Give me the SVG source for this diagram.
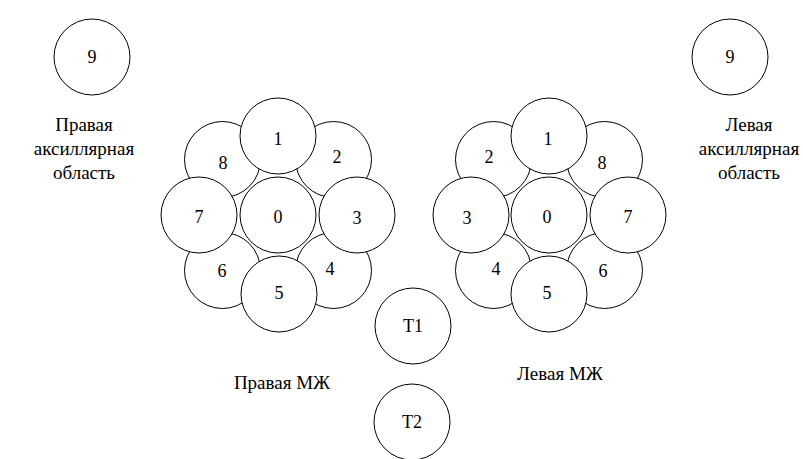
<svg xmlns="http://www.w3.org/2000/svg" width="803" height="459" viewBox="0 0 803 459">
<rect width="803" height="459" fill="#fff"/>
<g id="connectors"></g>
<g id="nodes" fill="#fff" stroke="#000" stroke-width="1">
<g id="right-axillary-9"><circle cx="92" cy="57" r="38"/></g>
<g id="left-axillary-9"><circle cx="730" cy="57" r="38"/></g>
<g id="right-mzh">
<g id="R8"><circle cx="222.5" cy="159.5" r="38"/></g>
<g id="R2"><circle cx="333.5" cy="159.5" r="38"/></g>
<g id="R4"><circle cx="333.5" cy="270.5" r="38"/></g>
<g id="R6"><circle cx="222.5" cy="270.5" r="38"/></g>
<g id="R1"><circle cx="278" cy="136" r="38"/></g>
<g id="R3"><circle cx="357" cy="215" r="38"/></g>
<g id="R5"><circle cx="279" cy="294" r="38"/></g>
<g id="R7"><circle cx="199" cy="215" r="38"/></g>
<g id="R0"><circle cx="278" cy="215" r="38"/></g>
</g>
<g id="left-mzh">
<g id="L2"><circle cx="493.5" cy="159.5" r="38"/></g>
<g id="L8"><circle cx="604.5" cy="159.5" r="38"/></g>
<g id="L6"><circle cx="604.5" cy="270.5" r="38"/></g>
<g id="L4"><circle cx="493.5" cy="270.5" r="38"/></g>
<g id="L1"><circle cx="549" cy="136" r="38"/></g>
<g id="L3"><circle cx="471" cy="215" r="38"/></g>
<g id="L5"><circle cx="549" cy="294" r="38"/></g>
<g id="L7"><circle cx="628" cy="215" r="38"/></g>
<g id="L0"><circle cx="549" cy="215" r="38"/></g>
</g>
<g id="T1"><circle cx="413" cy="326" r="38"/></g>
<g id="T2"><circle cx="412" cy="422" r="38"/></g>
</g>
<g id="node-labels" fill="#000" text-anchor="middle">
<text x="92" y="63" font-family="Times New Roman" font-size="18">9</text>
<text x="730" y="63" font-family="Times New Roman" font-size="18">9</text>
<text x="223" y="169" font-family="Times New Roman" font-size="18">8</text>
<text x="337" y="163" font-family="Times New Roman" font-size="18">2</text>
<text x="330" y="275" font-family="Times New Roman" font-size="18">4</text>
<text x="222" y="277" font-family="Times New Roman" font-size="18">6</text>
<text x="278" y="145" font-family="Times New Roman" font-size="18">1</text>
<text x="357" y="224" font-family="Times New Roman" font-size="18">3</text>
<text x="279" y="299" font-family="Times New Roman" font-size="18">5</text>
<text x="199" y="223" font-family="Times New Roman" font-size="18">7</text>
<text x="278" y="223" font-family="Times New Roman" font-size="18">0</text>
<text x="489" y="163" font-family="Times New Roman" font-size="18">2</text>
<text x="602" y="169" font-family="Times New Roman" font-size="18">8</text>
<text x="603" y="277" font-family="Times New Roman" font-size="18">6</text>
<text x="496" y="275" font-family="Times New Roman" font-size="18">4</text>
<text x="548" y="145" font-family="Times New Roman" font-size="18">1</text>
<text x="467" y="224" font-family="Times New Roman" font-size="18">3</text>
<text x="547" y="299" font-family="Times New Roman" font-size="18">5</text>
<text x="628" y="223" font-family="Times New Roman" font-size="18">7</text>
<text x="547" y="223" font-family="Times New Roman" font-size="18">0</text>
<text x="413" y="332" font-family="Times New Roman" font-size="18">T1</text>
<text x="412" y="428" font-family="Times New Roman" font-size="18">T2</text>
</g>
<g id="labels" fill="#000" text-anchor="middle">
<text x="84" y="131" font-family="Times New Roman" font-size="19">Правая</text>
<text x="84" y="155" font-family="Times New Roman" font-size="19">аксиллярная</text>
<text x="84" y="179" font-family="Times New Roman" font-size="19">область</text>
<text x="749" y="131" font-family="Times New Roman" font-size="19">Левая</text>
<text x="749" y="155" font-family="Times New Roman" font-size="19">аксиллярная</text>
<text x="749" y="179" font-family="Times New Roman" font-size="19">область</text>
<text x="282" y="389" font-family="Times New Roman" font-size="19">Правая МЖ</text>
<text x="560" y="380" font-family="Times New Roman" font-size="19">Левая МЖ</text>
</g>
</svg>
